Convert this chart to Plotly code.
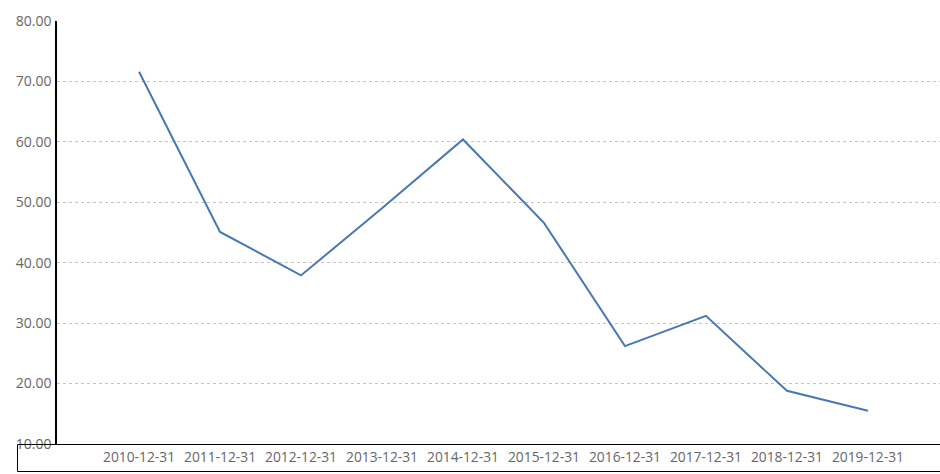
import plotly.graph_objects as go

dates = ["2010-12-31", "2011-12-31", "2012-12-31", "2013-12-31", "2014-12-31",
         "2015-12-31", "2016-12-31", "2017-12-31", "2018-12-31", "2019-12-31"]
values = [71.6, 45.1, 37.9, 49.0, 60.4, 46.6, 26.2, 31.2, 18.8, 15.5]
y_ticks = [10, 20, 30, 40, 50, 60, 70, 80]

W, H = 940, 474
ml, mr, mt, mb = 57, 0, 21, 30
pw, ph = W - ml - mr, H - mt - mb

def px_x(p):
    return (p - ml) / pw

def px_y(p):
    return (H - mb - p) / ph

fig = go.Figure()
fig.add_trace(go.Scatter(x=dates, y=values, mode="lines",
                         line=dict(color="#4678b6", width=2), hoverinfo="x+y"))

fig.update_layout(
    width=W, height=H,
    margin=dict(l=ml, r=mr, t=mt, b=mb),
    paper_bgcolor="white", plot_bgcolor="white",
    showlegend=False,
    font=dict(family="Open Sans, Noto Sans, sans-serif", size=14, color="#666666"),
    xaxis=dict(type="category", range=[-1.013, 9.89], showgrid=False, showline=False,
               zeroline=False, ticks="", ticklabelstandoff=3,
               tickfont=dict(size=13.8, color="#666666"), fixedrange=True),
    yaxis=dict(range=[10, 80], tickvals=y_ticks, tickformat=".2f", showgrid=True,
               gridcolor="#c4c4c4", griddash="3px,3px", gridwidth=1,
               showline=True, linecolor="black", linewidth=1.5, zeroline=False,
               ticks="", ticklabelstandoff=1, tickfont=dict(size=14, color="#666666")),
    shapes=[
        dict(type="rect", xref="paper", yref="paper",
             x0=px_x(17.5), x1=px_x(W + 5), y0=px_y(471.5), y1=px_y(444.5),
             line=dict(color="black", width=1), fillcolor="rgba(0,0,0,0)", layer="above"),
    ],
)

fig.write_html("out.html", config={"displayModeBar": False},
               post_script="document.body.style.margin='0';document.body.style.padding='0';")
